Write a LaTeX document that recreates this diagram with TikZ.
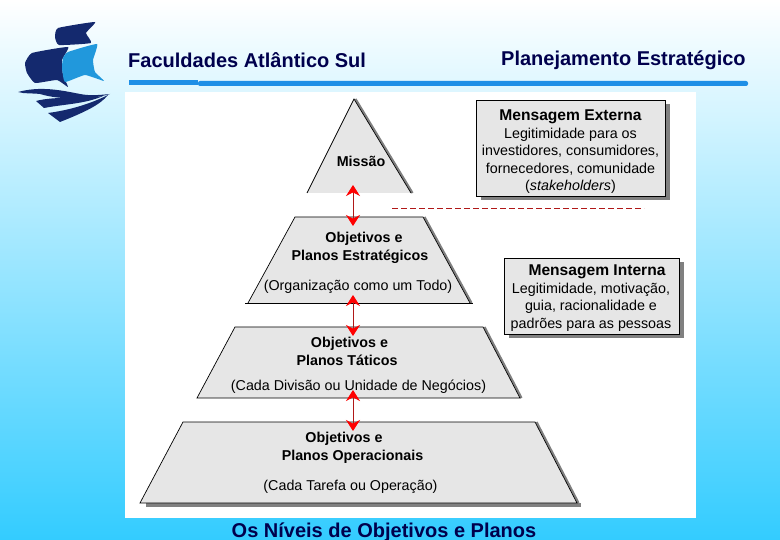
\documentclass[tikz,border=0pt]{standalone}
\usepackage{fontspec}
\setmainfont{Liberation Sans}
\usetikzlibrary{arrows.meta,shadows}
\definecolor{sky}{HTML}{33CCFF}
\definecolor{navy}{HTML}{00004D}
\definecolor{sailnavy}{HTML}{14296E}
\definecolor{sailblue}{HTML}{2198DC}
\definecolor{rulecol}{HTML}{1E8FE6}
\definecolor{panelgray}{HTML}{E6E6E6}
\definecolor{edgegray}{HTML}{808080}
\definecolor{wire}{HTML}{B01818}
\tikzset{
  level/.style={inner sep=0pt, outer sep=0pt},
  edgeline/.style={black, line width=0.7pt},
  edgeshade/.style={edgegray, line width=2.2pt},
  msgbox/.style={draw=black, line width=0.7pt, fill=panelgray, inner sep=0pt,
    drop shadow={shadow xshift=4.5pt, shadow yshift=-4.5pt, fill=edgegray, opacity=1}},
  msgtext/.style={align=center, inner sep=0pt, font=\fontsize{14.3}{17.5}\selectfont},
  title/.style={text=navy, font=\fontsize{20}{22}\selectfont\bfseries, inner sep=0pt},
  boldtext/.style={font=\fontsize{14.3}{18}\selectfont\bfseries, inner sep=0pt},
  plaintext/.style={font=\fontsize{14.3}{16}\selectfont, inner sep=0pt},
  link/.style={{Stealth[length=11pt,width=14pt,red]}-{Stealth[length=11pt,width=14pt,red]}, wire, line width=0.9pt, shorten <=-8pt, shorten >=-9pt},
}
\newcommand{\levelshape}[3]{
  \fill[panelgray] ([xshift=#2pt]#1.north west) -- ([xshift=-#3pt]#1.north east) -- (#1.south east) -- (#1.south west) -- cycle;
  \draw[edgeshade] ([xshift=-#3pt+1.5pt]#1.north east) -- ([xshift=1.5pt]#1.south east);
}
\begin{document}
\begin{tikzpicture}[x=1pt, y=-1pt]
  \useasboundingbox (0,0) rectangle (780,540);
  \shade[top color=white, bottom color=sky] (0,0) rectangle (780,540);
  \fill[white] (125,92) rectangle (696,518);

  \fill[sailnavy] plot[smooth cycle, tension=0.25] coordinates {(58,28) (95,22) (86,33) (91,43) (59,45) (55,37)};
  \fill[sailnavy] plot[smooth cycle, tension=0.25] coordinates {(32,53) (68,47) (62,60) (63,75) (68,87) (57,80) (35,83) (27,73) (25,63)};
  \fill[sailblue] plot[smooth cycle, tension=0.25] coordinates {(68,52) (97,44) (93,60) (95,72) (104,81) (85,75) (65,82) (62,68) (63,58)};
  \fill[sailnavy] (18,92) .. controls (40,86) and (60,90) .. (80,94) .. controls (90,96) and (100,95) .. (110,94)
    .. controls (90,100) and (60,100) .. (40,94) .. controls (32,93) and (25,94) .. cycle;
  \fill[sailnavy] (36,101) .. controls (55,96) and (80,99) .. (103,96) .. controls (85,104) and (65,104) .. (44,108) -- cycle;
  \fill[sailnavy] (48,113) .. controls (70,110) and (90,104) .. (108,95) .. controls (100,105) and (85,112) .. (60,122) -- cycle;

  \node[title, anchor=west] (leftTitle) at (128,60) {Faculdades Atlântico Sul};
  \node[title, anchor=west] (rightTitle) at (501,60.5) {Planejamento Estratégico};
  \node[title] (bottomTitle) at (384,532) {Os Níveis de Objetivos e Planos};
  \fill[rulecol] (129,80) rectangle (198,85);
  \fill[rulecol, rounded corners=2pt] (198,81) rectangle (748,86);

  \node[level, minimum width=104pt, minimum height=94pt] (missao) at (359,146) {};
  \node[level, minimum width=222pt, minimum height=86pt] (estrategico) at (359,260) {};
  \node[level, minimum width=323pt, minimum height=71pt] (tatico) at (358.5,362.5) {};
  \node[level, minimum width=437pt, minimum height=81pt] (operacional) at (358.5,462.5) {};

  \draw[edgegray, line width=4pt] ([xshift=6pt,yshift=-2pt]operacional.south west) -- ([xshift=4pt,yshift=-2pt]operacional.south east);
  \levelshape{missao}{47}{57}
  \levelshape{estrategico}{47}{47}
  \levelshape{tatico}{38}{37}
  \levelshape{operacional}{43}{42}
  \draw[edgeline] (missao.south west) -- ([xshift=47pt]missao.north west) -- (missao.south east);
  \draw[edgeline] ([xshift=-3pt]estrategico.south west) -- ([xshift=3pt]estrategico.south east);
  \draw[edgeline] (estrategico.south west) -- ([xshift=47pt]estrategico.north west) -- ([xshift=-47pt]estrategico.north east) -- (estrategico.south east);
  \draw[edgeline] (tatico.south west) -- ([xshift=38pt]tatico.north west) -- ([xshift=-37pt]tatico.north east) -- (tatico.south east) -- cycle;
  \draw[edgeline] (operacional.south west) -- ([xshift=43pt]operacional.north west) -- ([xshift=-42pt]operacional.north east) -- (operacional.south east) -- cycle;

  \node[boldtext] (missaoText) at (361,161) {Missão};
  \node[boldtext] (estrategicoA) at (364,239) {Objetivos e};
  \node[boldtext] (estrategicoB) at (360,257) {Planos Estratégicos};
  \node[plaintext] (estrategicoC) at (358,287) {(Organização como um Todo)};
  \node[boldtext] (taticoA) at (349.5,344) {Objetivos e};
  \node[boldtext] (taticoB) at (347,360) {Planos Táticos};
  \node[plaintext] (taticoC) at (358.5,387) {(Cada Divisão ou Unidade de Negócios)};
  \node[boldtext] (operacionalA) at (344,439) {Objetivos e};
  \node[boldtext] (operacionalB) at (352.5,457) {Planos Operacionais};
  \node[plaintext] (operacionalC) at (350.5,487) {(Cada Tarefa ou Operação)};

  \node[msgbox, minimum width=189pt, minimum height=96pt] (externa) at (570.5,148) {};
  \node[msgtext] (externaText) at (570.5,151.5)
    {{\fontsize{15.6}{17.5}\selectfont\bfseries Mensagem Externa}\\[0.5pt]
     Legitimidade para os\\investidores, consumidores,\\fornecedores, comunidade\\(\textit{stakeholders})};
  \node[msgbox, minimum width=175pt, minimum height=76pt] (interna) at (591.5,296) {};
  \node[msgtext] (internaText) at (591,298)
    {\hspace*{12pt}{\fontsize{15.6}{17.5}\selectfont\bfseries Mensagem Interna}\\
     Legitimidade, motivação,\\guia, racionalidade e\\padrões para as pessoas};

  \coordinate (dashStart) at (392,208);
  \coordinate (dashEnd) at (644,208);
  \draw[wire, dash pattern=on 6pt off 3pt, line width=0.7pt] (dashStart) -- (dashEnd);

  \draw[link] ([xshift=-6pt]missao.south) -- ([xshift=-6pt]estrategico.north);
  \draw[link] ([xshift=-6pt]estrategico.south) -- ([xshift=-5.5pt]tatico.north);
  \draw[link] ([xshift=-5.5pt]tatico.south) -- ([xshift=-5.5pt]operacional.north);
\end{tikzpicture}
\end{document}
